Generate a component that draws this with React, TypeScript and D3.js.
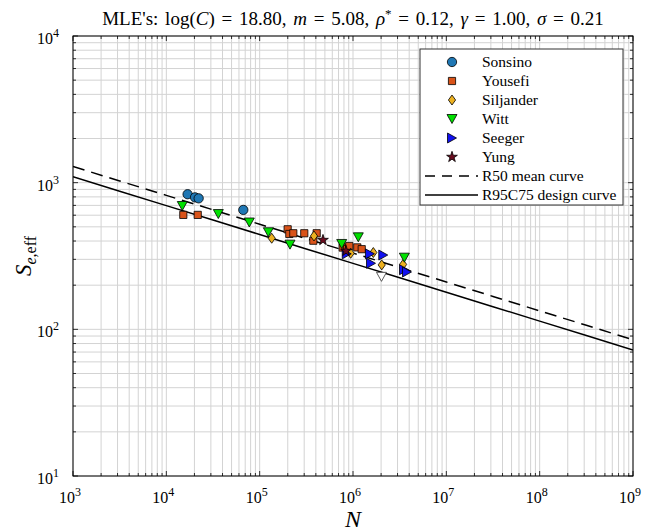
import * as d3 from "d3";

// reading of the reference chart (N cycles, effective stress)
const sonsinoN = [16900, 20300, 22200, 66800];
const sonsinoS = [834, 794, 782, 652];

const yousefiN = [15200, 21700, 199500, 207800, 229300, 300600, 375700, 408300, 776000, 863000, 913000, 1112000, 1240000];
const yousefiS = [603, 603, 481, 447, 452, 452, 402, 452, 361, 352, 370, 362, 352];

const siljanderN = [134600, 382000, 944000, 1651000, 2032000, 3440000];
const siljanderS = [418, 433, 330, 334, 275, 277];

const wittN = [14830, 36060, 77430, 123900, 211300, 757000, 1140000, 3550000];
const wittS = [693, 611, 535, 459, 378, 382, 424, 308];
const wittRunoutN = [2020000];
const wittRunoutS = [228];

const seegerN = [857000, 1520000, 2110000, 1560000, 3520000, 3790000];
const seegerS = [327, 327, 321, 282, 255, 246];

const yungN = [477000, 841000];
const yungS = [406, 342];

// MLE parameters
const logC = 18.8;
const mExp = 5.08;
const designOffset = -0.07; // log10 shift R95C75 vs R50

const xDecades = [3, 4, 5, 6, 7, 8, 9];
const yDecades = [1, 2, 3, 4];

const W = 646;
const H = 532;
const margin = { left: 73, top: 36, right: 13, bottom: 56 };
const pw = W - margin.left - margin.right;
const ph = H - margin.top - margin.bottom;

const x = d3.scaleLog().domain([1e3, 1e9]).range([margin.left, margin.left + pw]);
const y = d3.scaleLog().domain([1e1, 1e4]).range([margin.top + ph, margin.top]);

const serif = "'Liberation Serif', 'Times New Roman', serif";

function minorTicks(decs: number[]) {
  const out: number[] = [];
  for (let i = 0; i < decs.length - 1; i++) {
    for (let k = 2; k <= 9; k++) out.push(k * Math.pow(10, decs[i]));
  }
  return out;
}

function markerPath(kind: string) {
  switch (kind) {
    case "circle":
      return d3.symbol(d3.symbolCircle, 68)()!;
    case "square":
      return "M-3.6,-3.6L3.6,-3.6L3.6,3.6L-3.6,3.6Z";
    case "diamond":
      return "M0,-5L3.6,0L0,5L-3.6,0Z";
    case "down":
      return "M-5,-4.5L5,-4.5L0,4.5Z";
    case "right":
      return "M-4.5,-5L4.5,0L-4.5,5Z";
    case "star":
      return d3.symbol(d3.symbolStar, 36)()!;
  }
  return "";
}

type Series = { name: string; N: number[]; S: number[]; kind: string; fill: string };

const series: Series[] = [
  { name: "Sonsino", N: sonsinoN, S: sonsinoS, kind: "circle", fill: "#1f77b4" },
  { name: "Yousefi", N: yousefiN, S: yousefiS, kind: "square", fill: "#d95319" },
  { name: "Siljander", N: siljanderN, S: siljanderS, kind: "diamond", fill: "#edb120" },
  { name: "Witt", N: wittN, S: wittS, kind: "down", fill: "#00e000" },
  { name: "Seeger", N: seegerN, S: seegerS, kind: "right", fill: "#1010f0" },
  { name: "Yung", N: yungN, S: yungS, kind: "star", fill: "#6a0d1f" },
];

function curve(offset: number) {
  const ns = d3.range(3, 9.001, 0.5).map((e) => Math.pow(10, e));
  const line = d3
    .line<number>()
    .x((n) => x(n))
    .y((n) => y(Math.pow(10, (logC - Math.log10(n)) / mExp + offset)));
  return line(ns)!;
}

function Pow10({ exp, xx, yy, anchor }: { exp: number; xx: number; yy: number; anchor: string }) {
  return (
    <text x={xx} y={yy} textAnchor={anchor} fontFamily={serif} fontSize={16} fill="#000">
      10
      <tspan dy={-7} fontSize={12}>
        {exp}
      </tspan>
    </text>
  );
}

export default function App() {
  const x0 = margin.left;
  const x1 = margin.left + pw;
  const y0 = margin.top;
  const y1 = margin.top + ph;
  const xMinor = minorTicks(xDecades);
  const yMinor = minorTicks(yDecades);
  const xMajor = xDecades.map((e) => Math.pow(10, e));
  const yMajor = yDecades.map((e) => Math.pow(10, e));

  const legendRows = [...series.map((s) => s.name), "R50 mean curve", "R95C75 design curve"];
  const lgX = 420;
  const lgY = 49;
  const rowH = 19;

  return (
    <svg width={W} height={H} style={{ position: "absolute", left: 0, top: 0, background: "#fff" }}>
      <rect x={0} y={0} width={W} height={H} fill="#fff" />
      {/* grid */}
      <g stroke="#d3d3d3" strokeWidth={1}>
        {[...xMinor, ...xMajor].map((v, i) => (
          <line key={"gx" + i} x1={x(v)} x2={x(v)} y1={y0} y2={y1} />
        ))}
        {[...yMinor, ...yMajor].map((v, i) => (
          <line key={"gy" + i} x1={x0} x2={x1} y1={y(v)} y2={y(v)} />
        ))}
      </g>

      {/* curves */}
      <clipPath id="plotclip">
        <rect x={x0} y={y0} width={pw} height={ph} />
      </clipPath>
      <g clipPath="url(#plotclip)" fill="none" stroke="#000" strokeWidth={1.5}>
        <path d={curve(0)} strokeDasharray="12,7" />
        <path d={curve(designOffset)} />
      </g>

      {/* points */}
      {series.map((s) => (
        <g key={s.name}>
          {s.N.map((n, i) => (
            <path
              key={i}
              d={markerPath(s.kind)}
              transform={`translate(${x(n)},${y(s.S[i])})`}
              fill={s.fill}
              stroke="#000"
              strokeWidth={0.8}
            />
          ))}
        </g>
      ))}
      {wittRunoutN.map((n, i) => (
        <path
          key={"ro" + i}
          d={markerPath("down")}
          transform={`translate(${x(n)},${y(wittRunoutS[i])})`}
          fill="#fff"
          stroke="#333"
          strokeWidth={0.8}
        />
      ))}

      {/* ticks on all sides, pointing in */}
      <g stroke="#000" strokeWidth={0.8}>
        {xMajor.map((v, i) => (
          <g key={"tx" + i}>
            <line x1={x(v)} x2={x(v)} y1={y1} y2={y1 - 5} />
            <line x1={x(v)} x2={x(v)} y1={y0} y2={y0 + 5} />
          </g>
        ))}
        {xMinor.map((v, i) => (
          <g key={"tmx" + i}>
            <line x1={x(v)} x2={x(v)} y1={y1} y2={y1 - 3} />
            <line x1={x(v)} x2={x(v)} y1={y0} y2={y0 + 3} />
          </g>
        ))}
        {yMajor.map((v, i) => (
          <g key={"ty" + i}>
            <line x1={x0} x2={x0 + 5} y1={y(v)} y2={y(v)} />
            <line x1={x1} x2={x1 - 5} y1={y(v)} y2={y(v)} />
          </g>
        ))}
        {yMinor.map((v, i) => (
          <g key={"tmy" + i}>
            <line x1={x0} x2={x0 + 3} y1={y(v)} y2={y(v)} />
            <line x1={x1} x2={x1 - 3} y1={y(v)} y2={y(v)} />
          </g>
        ))}
      </g>
      <rect x={x0} y={y0} width={pw} height={ph} fill="none" stroke="#000" strokeWidth={1} />

      {/* tick labels */}
      {xDecades.map((e) => (
        <Pow10 key={"lx" + e} exp={e} xx={x(Math.pow(10, e)) - 3} yy={y1 + 27} anchor="middle" />
      ))}
      {yDecades.map((e) => (
        <Pow10 key={"ly" + e} exp={e} xx={x0 - 14} yy={y(Math.pow(10, e)) + 8} anchor="end" />
      ))}

      {/* axis labels */}
      <text x={x0 + pw / 2} y={H - 5} textAnchor="middle" fontFamily={serif} fontSize={24} fontStyle="italic">
        N
      </text>
      <text
        transform={`translate(31,${y0 + ph / 2}) rotate(-90)`}
        textAnchor="middle"
        fontFamily={serif}
        fontSize={23}
      >
        <tspan fontStyle="italic">S</tspan>
        <tspan fontSize={16} dy={5}>
          <tspan fontStyle="italic">e</tspan>,eff
        </tspan>
      </text>

      {/* title */}
      <text x={x0 + pw / 2} y={25} textAnchor="middle" fontFamily={serif} fontSize={19} wordSpacing={2}>
        MLE's: log(<tspan fontStyle="italic">C</tspan>) = 18.80, <tspan fontStyle="italic">m</tspan> = 5.08,{" "}
        <tspan fontStyle="italic">ρ</tspan>
        <tspan dy={-7} fontSize={13}>*</tspan>
        <tspan dy={7}> = 0.12, </tspan>
        <tspan fontStyle="italic">γ</tspan> = 1.00, <tspan fontStyle="italic">σ</tspan> = 0.21
      </text>

      {/* legend */}
      <rect x={lgX} y={lgY} width={203} height={156} fill="#fff" stroke="#333" strokeWidth={1} />
      {legendRows.map((name, i) => {
        const cy = lgY + 13 + i * rowH;
        const s = series[i];
        return (
          <g key={"lg" + i}>
            {s ? (
              <path
                d={markerPath(s.kind)}
                transform={`translate(452,${cy})`}
                fill={s.fill}
                stroke="#000"
                strokeWidth={0.8}
              />
            ) : (
              <line
                x1={425}
                x2={478}
                y1={cy}
                y2={cy}
                stroke="#000"
                strokeWidth={1.5}
                strokeDasharray={i === 6 ? "10,7" : undefined}
              />
            )}
            <text x={482} y={cy + 5} fontFamily={serif} fontSize={15.5}>
              {name}
            </text>
          </g>
        );
      })}
    </svg>
  );
}
